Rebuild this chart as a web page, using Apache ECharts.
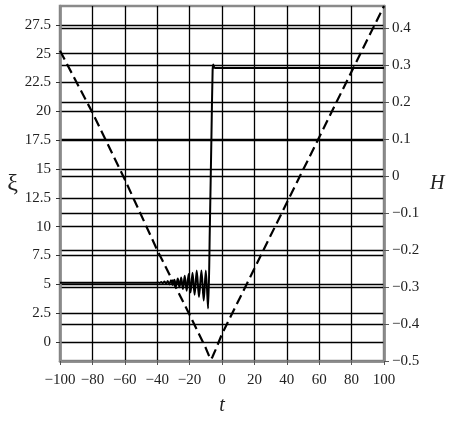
<!DOCTYPE html>
<html>
<head>
    <meta charset="utf-8">
    <script src="https://cdn.jsdelivr.net/npm/echarts@6/dist/echarts.min.js"></script>
    <style>
        html, body { margin: 0; padding: 0; background: #fff; }
        #chart { width: 450px; height: 421px; }
    </style>
</head>
<body>
<div id="chart"></div>
<script>
    // ticks
    var tTicks = [-100, -80, -60, -40, -20, 0, 20, 40, 60, 80, 100];
    var xiTicks = [0, 2.5, 5, 7.5, 10, 12.5, 15, 17.5, 20, 22.5, 25, 27.5];
    var hTicks = [-0.5, -0.4, -0.3, -0.2, -0.1, 0, 0.1, 0.2, 0.3, 0.4];

    // xi(t), solid line (left axis)
    var xiT = [-100, -42, -40.5, -39.5, -38.5, -37.5, -36.5, -35.5, -34.5, -33.5, -32.5, -31.5, -30.5, -29.4, -28.4,
        -27.3, -26.3, -25.2, -24.1, -23, -21.8, -20.6, -19.4, -18.2, -16.9, -15.6, -14.2, -12.7, -11.3, -10, -8.6,
        -7.5, -6.5, -5.8, -5.4, -4.8, -4, 100];
    var xiV = [5.15, 5.15, 5.15, 5.17, 5.12, 5.2, 5.1, 5.25, 5.05, 5.3, 5.0, 5.35, 4.95, 5.4, 4.85,
        5.5, 4.75, 5.6, 4.6, 5.75, 4.45, 5.9, 4.3, 6.0, 4.1, 6.2, 3.9, 6.2, 3.6, 6.2, 2.9,
        10, 18, 23.5, 24.05, 23.8, 23.75, 23.75];

    // H(t), dashed line (right axis)
    var hT = [-100, -80, -60, -40, -20, -10, -8, -7, -6, -4, 0, 20, 40, 60, 80, 100];
    var hV = [0.339, 0.172, -0.009, -0.2, -0.375, -0.465, -0.486, -0.496, -0.49, -0.47, -0.427, -0.25, -0.072, 0.105, 0.283, 0.46];

    function pairs(xs, ys) {
        var out = [];
        for (var i = 0; i < xs.length; i++) out.push([xs[i], ys[i]]);
        return out;
    }
    function fmt(v) {
        var s = String(Math.round(v * 1000) / 1000);
        return s.replace('-', '\u2212');
    }

    var font = 'Liberation Serif';
    var chart = echarts.init(document.getElementById('chart'));
    chart.setOption({
        backgroundColor: '#ffffff',
        animation: false,
        grid: {
            left: 60, right: 66, top: 6, bottom: 52,
            show: true, borderColor: '#8a8a8a', borderWidth: 2.5, backgroundColor: 'transparent'
        },
        xAxis: {
            type: 'value', min: -100, max: 100, interval: 20,
            name: 't', nameLocation: 'middle', nameGap: 35,
            nameTextStyle: { fontFamily: font, fontSize: 20, fontStyle: 'italic', color: '#222' },
            axisLine: { show: true, onZero: false, lineStyle: { color: '#8a8a8a', width: 2.5 } },
            axisTick: { show: true, length: 4, lineStyle: { color: '#555' } },
            axisLabel: { formatter: fmt, fontFamily: font, fontSize: 15, color: '#222', margin: 12 },
            splitLine: { show: true, lineStyle: { color: '#000', width: 1.3 } }
        },
        yAxis: [{
            type: 'value', min: -1.64, max: 29.13, position: 'left',
            name: '\u03BE', nameLocation: 'middle', nameGap: 42, nameRotate: 0,
            nameTextStyle: { fontFamily: font, fontSize: 24, color: '#222' },
            axisLine: { show: true, onZero: false, lineStyle: { color: '#8a8a8a', width: 2.5 } },
            axisTick: { show: true, length: 4, customValues: xiTicks, lineStyle: { color: '#333' } },
            axisLabel: { customValues: xiTicks, formatter: fmt, fontFamily: font, fontSize: 15, color: '#222', margin: 9 },
            splitLine: { show: true, lineStyle: { color: '#000', width: 1.3 } }
        }, {
            type: 'value', min: -0.5, max: 0.46, position: 'right',
            name: 'H', nameLocation: 'middle', nameGap: 46, nameRotate: 0,
            nameTextStyle: { fontFamily: font, fontSize: 20, fontStyle: 'italic', color: '#222' },
            axisLine: { show: true, onZero: false, lineStyle: { color: '#8a8a8a', width: 2.5 } },
            axisTick: { show: true, length: 5, customValues: hTicks, lineStyle: { color: '#555' } },
            axisLabel: { customValues: hTicks, formatter: fmt, fontFamily: font, fontSize: 15, color: '#222', margin: 8 },
            splitLine: { show: true, lineStyle: { color: '#000', width: 1.3 } }
        }],
        series: [{
            type: 'line', yAxisIndex: 1, showSymbol: false,
            data: pairs(hT, hV),
            lineStyle: { color: '#000', width: 2.2, type: [10, 5] }
        }, {
            type: 'line', yAxisIndex: 0, showSymbol: false, smooth: 0.3,
            data: pairs(xiT, xiV),
            lineStyle: { color: '#000', width: 2 }
        }]
    });
</script>
</body>
</html>
